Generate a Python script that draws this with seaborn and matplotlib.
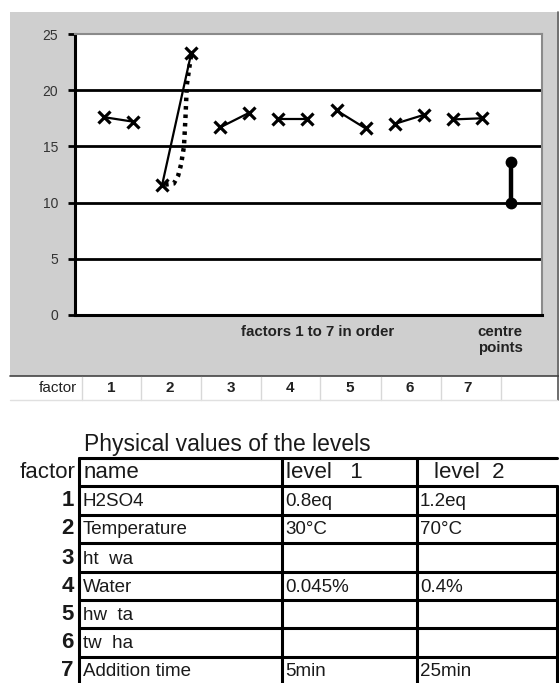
import numpy as np
import pandas as pd
import matplotlib
matplotlib.use("Agg")
import matplotlib.pyplot as plt
from matplotlib.patches import Rectangle
from matplotlib.lines import Line2D
import seaborn as sns

# Response at level 1 and level 2 for each factor
factors = [1, 2, 3, 4, 5, 6, 7]
resp_level1 = [17.6, 11.6, 16.7, 17.4, 18.2, 17.0, 17.4]
resp_level2 = [17.2, 23.3, 18.0, 17.4, 16.6, 17.8, 17.5]
centre_points = [13.6, 10.0]

# dotted curve drawn next to factor 2 (category units)
dotted_x = [2.1, 2.4, 2.55, 2.65, 2.75, 2.8, 2.85, 3.0]
dotted_y = [11.6, 11.7, 12.4, 13.4, 15.0, 17.5, 20.5, 23.2]

y_ticks = [0, 5, 10, 15, 20, 25]

# Table of physical values
table_factor = ["1", "2", "3", "4", "5", "6", "7"]
table_name = ["H2SO4", "Temperature", "ht  wa", "Water", "hw  ta", "tw  ha", "Addition time"]
table_level1 = ["0.8eq", "30\u00b0C", "", "0.045%", "", "", "5min"]
table_level2 = ["1.2eq", "70\u00b0C", "", "0.4%", "", "", "25min"]

W, H = 559, 683


def fx(x):
    return x / W


def fy(y):
    return 1 - y / H


def main():
    sns.set_theme(style="white")
    plt.rcParams["font.family"] = ["Liberation Sans", "DejaVu Sans"]

    fig = plt.figure(figsize=(W / 100, H / 100), dpi=100)
    fig.patch.set_facecolor("white")

    # grey chart panel
    fig.add_artist(Rectangle((fx(10), fy(376)), fx(547), 364 / H, transform=fig.transFigure,
                             facecolor="#cfcfcf", edgecolor="none", zorder=0))
    fig.add_artist(Line2D([fx(557.5), fx(557.5)], [fy(12), fy(400)], transform=fig.transFigure,
                          color="#555555", lw=1.2))
    fig.add_artist(Line2D([fx(10), fx(559)], [fy(376), fy(376)], transform=fig.transFigure,
                          color="#444444", lw=1.2))

    ax = fig.add_axes([fx(75), fy(315), (542 - 75) / W, (315 - 34) / H])
    ax.set_facecolor("white")

    # data for the factor pairs
    rows = []
    for i, f in enumerate(factors):
        rows.append({"factor": f, "pos": 2 * i, "resp": resp_level1[i]})
        rows.append({"factor": f, "pos": 2 * i + 1, "resp": resp_level2[i]})
    df = pd.DataFrame(rows)
    df_c = pd.DataFrame({"factor": [8, 8], "pos": [14, 14], "resp": centre_points})

    for y in y_ticks[1:-1]:
        ax.axhline(y, color="black", lw=2, zorder=1)

    sns.lineplot(data=df, x="pos", y="resp", units="factor", estimator=None, color="black",
                 lw=1.6, marker="x", markersize=8.5, markeredgewidth=2.3, markeredgecolor="black",
                 ax=ax, zorder=3)
    ax.plot(dotted_x, dotted_y, color="black", lw=3.2, linestyle=(0, (0.8, 1.1)), zorder=3)
    sns.lineplot(data=df_c, x="pos", y="resp", units="factor", estimator=None, color="black",
                 lw=3.2, marker="o", markersize=7, markeredgewidth=1.5, markeredgecolor="black",
                 ax=ax, zorder=3)

    ax.set_xlim(-1, 15.07)
    ax.set_ylim(0, 25)
    ax.set_yticks(y_ticks)
    ax.set_xticks([])
    ax.set_xlabel("")
    ax.set_ylabel("")
    ax.tick_params(axis="y", left=True, length=5, width=2, color="black", pad=7,
                   labelsize=10, labelcolor="#333333")
    ax.spines["left"].set_color("black")
    ax.spines["left"].set_linewidth(2.2)
    ax.spines["bottom"].set_color("black")
    ax.spines["bottom"].set_linewidth(2.2)
    ax.spines["top"].set_color("#8a8a8a")
    ax.spines["top"].set_linewidth(1.5)
    ax.spines["right"].set_color("#8a8a8a")
    ax.spines["right"].set_linewidth(1.5)
    for s in ax.spines.values():
        s.set_visible(True)

    fig.text(fx(318), fy(332), "factors 1 to 7 in order", ha="center", va="center",
             fontsize=10.8, fontweight="bold", color="#222222")
    fig.text(fx(500), fy(340), "centre\npoints", ha="center", va="center", fontsize=10.8,
             fontweight="bold", color="#222222", linespacing=1.2, multialignment="right")

    # factor row under the chart
    col_edges = [82, 141, 201, 261, 320, 381, 441, 501]
    col_centres = [111, 170, 231, 290, 350, 410, 468]
    for x in col_edges:
        fig.add_artist(Line2D([fx(x), fx(x)], [fy(377), fy(400)], transform=fig.transFigure,
                              color="#d8d8d8", lw=1))
    fig.add_artist(Line2D([fx(10), fx(557)], [fy(400), fy(400)], transform=fig.transFigure,
                          color="#e0e0e0", lw=1))
    fig.text(fx(77), fy(388), "factor", ha="right", va="center", fontsize=11, color="#222222")
    for x, f in zip(col_centres, factors):
        fig.text(fx(x), fy(388), str(f), ha="center", va="center", fontsize=11,
                 fontweight="bold", color="#222222")

    # table of physical values
    fig.text(fx(84), fy(445), "Physical values of the levels", ha="left", va="center",
             fontsize=16.5, color="#1a1a1a")
    line_kw = dict(transform=fig.transFigure, color="black", lw=2.2)
    row_lines = [458, 486, 515, 543, 572, 600, 628, 657]
    fig.add_artist(Line2D([fx(79), fx(557)], [fy(458), fy(458)], **line_kw))
    for y in row_lines[1:]:
        fig.add_artist(Line2D([fx(79), fx(557)], [fy(y), fy(y)], **line_kw))
    for x in [79, 282, 417]:
        fig.add_artist(Line2D([fx(x), fx(x)], [fy(458), fy(683)], **line_kw))
    fig.add_artist(Line2D([fx(557), fx(557)], [fy(486), fy(683)], **line_kw))

    fig.text(fx(75), fy(472), "factor", ha="right", va="center", fontsize=16, color="#1a1a1a")
    fig.text(fx(84), fy(472), "name", ha="left", va="center", fontsize=16, color="#1a1a1a")
    fig.text(fx(286), fy(472), "level   1", ha="left", va="center", fontsize=16, color="#1a1a1a")
    fig.text(fx(434), fy(472), "level  2", ha="left", va="center", fontsize=16, color="#1a1a1a")

    row_centres = [501, 529, 558, 586, 614, 643, 671]
    for i, yc in enumerate(row_centres):
        fig.text(fx(74), fy(yc), table_factor[i], ha="right", va="center", fontsize=16,
                 fontweight="bold", color="#1a1a1a")
        fig.text(fx(83), fy(yc + 1), table_name[i], ha="left", va="center", fontsize=13.5,
                 color="#1a1a1a")
        fig.text(fx(285), fy(yc + 1), table_level1[i], ha="left", va="center", fontsize=13.5,
                 color="#1a1a1a")
        fig.text(fx(420), fy(yc + 1), table_level2[i], ha="left", va="center", fontsize=13.5,
                 color="#1a1a1a")

    fig.savefig("out.png", dpi=100)
    plt.close(fig)


if __name__ == "__main__":
    main()
